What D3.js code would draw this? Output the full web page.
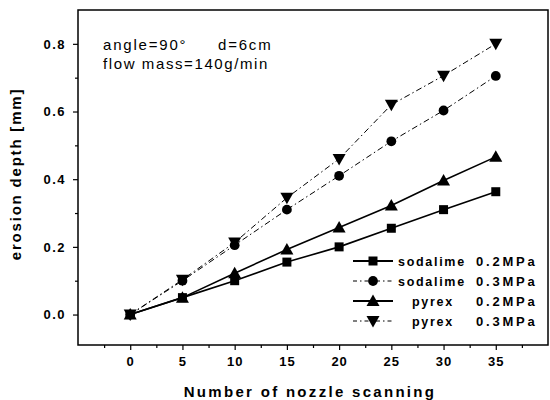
<!DOCTYPE html>
<html>
<head>
<meta charset="utf-8">
<script src="https://cdn.jsdelivr.net/npm/d3@7/dist/d3.min.js"></script>
<style>
body { margin: 0; background: #fff; }
svg { display: block; }
text { font-family: "Liberation Sans", Arial, sans-serif; fill: #000; }
</style>
</head>
<body>
<svg id="chart" width="550" height="400"></svg>
<script>
// erosion depth vs number of nozzle scans
var scans = [0, 5, 10, 15, 20, 25, 30, 35];
var sodalime02 = [0, 0.05, 0.10, 0.155, 0.20, 0.255, 0.31, 0.363];
var sodalime03 = [0, 0.10, 0.205, 0.31, 0.41, 0.512, 0.603, 0.705];
var pyrex02 = [0, 0.05, 0.122, 0.192, 0.257, 0.322, 0.396, 0.466];
var pyrex03 = [0, 0.103, 0.213, 0.345, 0.46, 0.62, 0.706, 0.80];
var xTicks = [0, 5, 10, 15, 20, 25, 30, 35];
var yTicks = [0, 0.2, 0.4, 0.6, 0.8];

var series = [
	{ name: "sodalime", p: "0.2MPa", values: sodalime02, sym: "square", dash: null },
	{ name: "sodalime", p: "0.3MPa", values: sodalime03, sym: "circle", dash: "6,3,1.5,3" },
	{ name: "pyrex", p: "0.2MPa", values: pyrex02, sym: "up", dash: null },
	{ name: "pyrex", p: "0.3MPa", values: pyrex03, sym: "down", dash: "6,3,1.5,3" }
];

var svg = d3.select("#chart");
var pl = 78, pr = 548, pt = 10, pb = 345;

var x = d3.scaleLinear().domain([-5, 40]).range([pl, pr]);
var y = d3.scaleLinear().domain([-0.09, 0.9]).range([pb, pt]);

// frame
svg.append("rect")
	.attr("x", pl).attr("y", pt)
	.attr("width", pr - pl).attr("height", pb - pt)
	.attr("fill", "none").attr("stroke", "#000").attr("stroke-width", 1.5);

// minor ticks
svg.append("g").attr("transform", "translate(0," + pb + ")")
	.call(d3.axisBottom(x).tickValues(d3.range(-2.5, 40, 5)).tickSize(3).tickFormat(""))
	.call(function(g) { g.select(".domain").remove(); });
svg.append("g").attr("transform", "translate(" + pl + ",0)")
	.call(d3.axisLeft(y).tickValues([0.1, 0.3, 0.5, 0.7]).tickSize(3).tickFormat(""))
	.call(function(g) { g.select(".domain").remove(); });

// major ticks + labels
var xa = svg.append("g").attr("transform", "translate(0," + pb + ")")
	.call(d3.axisBottom(x).tickValues(xTicks).tickSize(5).tickPadding(7).tickFormat(d3.format("d")));
xa.select(".domain").remove();
xa.selectAll("text").attr("font-size", 13).attr("font-weight", "bold").attr("letter-spacing", 1)
	.style("font-family", "Liberation Sans, Arial, sans-serif");

var ya = svg.append("g").attr("transform", "translate(" + pl + ",0)")
	.call(d3.axisLeft(y).tickValues(yTicks).tickSize(5).tickPadding(7).tickFormat(d3.format(".1f")));
ya.select(".domain").remove();
ya.selectAll("text").attr("font-size", 13).attr("font-weight", "bold").attr("letter-spacing", 1.5)
	.style("font-family", "Liberation Sans, Arial, sans-serif");
svg.selectAll(".tick line").attr("stroke-width", 1.2);

// axis titles
svg.append("text")
	.attr("x", 310).attr("y", 397)
	.attr("text-anchor", "middle")
	.attr("font-size", 15).attr("font-weight", "bold")
	.attr("letter-spacing", 2.3)
	.text("Number of nozzle scanning");

svg.append("text")
	.attr("transform", "translate(21,174) rotate(-90)")
	.attr("text-anchor", "middle")
	.attr("font-size", 15).attr("font-weight", "bold")
	.attr("letter-spacing", 1.8)
	.text("erosion depth [mm]");

// annotation
svg.append("text").attr("x", 103).attr("y", 50).attr("font-size", 15).attr("letter-spacing", 1.8)
	.text("angle=90°");
svg.append("text").attr("x", 218).attr("y", 50).attr("font-size", 15).attr("letter-spacing", 1.8)
	.text("d=6cm");
svg.append("text").attr("x", 103).attr("y", 69).attr("font-size", 15).attr("letter-spacing", 1.6)
	.text("flow mass=140g/min");

function symbolPath(sym) {
	if (sym === "square") return "M-4.5,-4.5h9v9h-9z";
	if (sym === "circle") return d3.symbol(d3.symbolCircle, 75)();
	if (sym === "up") return "M0,-6.5L6.5,5L-6.5,5Z";
	return "M0,6.5L6.5,-5L-6.5,-5Z";
}

var line = d3.line().x(function(d) { return x(d[0]); }).y(function(d) { return y(d[1]); });

series.forEach(function(s) {
	var pts = scans.map(function(v, i) { return [v, s.values[i]]; });
	svg.append("path")
		.attr("d", line(pts))
		.attr("fill", "none").attr("stroke", "#000")
		.attr("stroke-width", s.dash ? 1 : 1.6)
		.attr("stroke-dasharray", s.dash);
	svg.append("g").selectAll("path").data(pts).enter().append("path")
		.attr("transform", function(d) { return "translate(" + x(d[0]) + "," + y(d[1]) + ")"; })
		.attr("d", symbolPath(s.sym))
		.attr("fill", "#000");
});

// legend
var legY = [261, 281, 301, 321];
series.forEach(function(s, i) {
	var g = svg.append("g").attr("transform", "translate(0," + legY[i] + ")");
	g.append("line").attr("x1", 353).attr("x2", 393).attr("y1", 0).attr("y2", 0)
		.attr("stroke", "#000").attr("stroke-width", s.dash ? 1 : 1.8)
		.attr("stroke-dasharray", s.dash ? "4,3,1.5,3" : null);
	g.append("path").attr("transform", "translate(373,0)")
		.attr("d", symbolPath(s.sym)).attr("fill", "#000");
	g.append("text")
		.attr("x", s.name === "pyrex" ? 412 : 398).attr("y", 4.5)
		.attr("font-size", 12.5).attr("font-weight", "bold").attr("letter-spacing", 1.7)
		.text(s.name);
	g.append("text")
		.attr("x", 476).attr("y", 4.5)
		.attr("font-size", 13).attr("font-weight", "bold").attr("letter-spacing", 2.8)
		.text(s.p);
});
</script>
</body>
</html>
